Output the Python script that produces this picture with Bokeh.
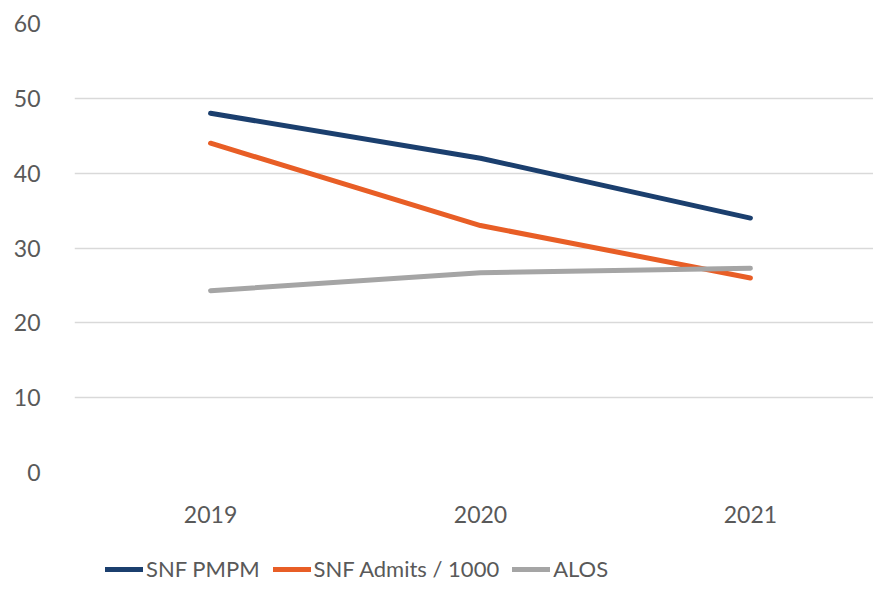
from bokeh.plotting import figure
from bokeh.models import Legend, LegendItem, Range1d, FixedTicker
from bokeh.layouts import column
from bokeh.embed import file_html
from bokeh.resources import INLINE

years = [2019, 2020, 2021]
snf_pmpm = [48.0, 42.0, 34.0]
snf_admits = [44.0, 33.0, 26.0]
alos = [24.3, 26.7, 27.3]
y_ticks = [0, 10, 20, 30, 40, 50, 60]
series_names = ["SNF PMPM", "SNF Admits / 1000", "ALOS"]
series_colors = ["#1B3F6E", "#E85E26", "#A5A5A5"]

FONT = "Lato"
TXT = "#595959"

p = figure(x_range=Range1d(2018.496, 2021.456), y_range=Range1d(0, 60),
           width=873, height=540,
           output_backend="svg", toolbar_location=None,
           min_border_left=74, min_border_right=0, min_border_top=23,
           min_border_bottom=68)
p.outline_line_color = None
p.xgrid.grid_line_color = None
p.ygrid.grid_line_color = "#D9D9D9"
p.ygrid.grid_line_width = 1.5
p.yaxis.ticker = FixedTicker(ticks=y_ticks)
p.xaxis.ticker = FixedTicker(ticks=years)

for ax in (p.xaxis[0], p.yaxis[0]):
    ax.axis_line_color = None
    ax.major_tick_line_color = None
    ax.minor_tick_line_color = None
    ax.major_label_text_font = FONT
    ax.major_label_text_font_size = "23px"
    ax.major_label_text_color = TXT
p.yaxis.major_label_standoff = 28
p.xaxis.major_label_standoff = 27

for vals, col in zip([snf_pmpm, snf_admits, alos], series_colors):
    p.line(years, vals, line_color=col, line_width=5, line_cap="round", line_join="round")

# legend strip below the chart
lg = figure(width=873, height=42, output_backend="svg", toolbar_location=None,
            x_axis_type=None, y_axis_type=None, min_border=0,
            x_range=Range1d(0, 1), y_range=Range1d(0, 1))
lg.outline_line_color = None
lg.xgrid.visible = False
lg.ygrid.visible = False
items = []
for name, col in zip(series_names, series_colors):
    r = lg.line([float("nan")], [float("nan")], line_color=col, line_width=5, line_cap="round")
    items.append(LegendItem(label=name, renderers=[r]))
legend = Legend(items=items, orientation="horizontal", location=(31, 0),
                border_line_color=None, background_fill_alpha=0,
                label_text_font=FONT, label_text_font_size="22px",
                label_text_color=TXT, glyph_width=38, label_standoff=3,
                spacing=13, padding=0, margin=0)
lg.add_layout(legend, "center")

open("out.html", "w").write(file_html(column(p, lg, spacing=0), INLINE))
